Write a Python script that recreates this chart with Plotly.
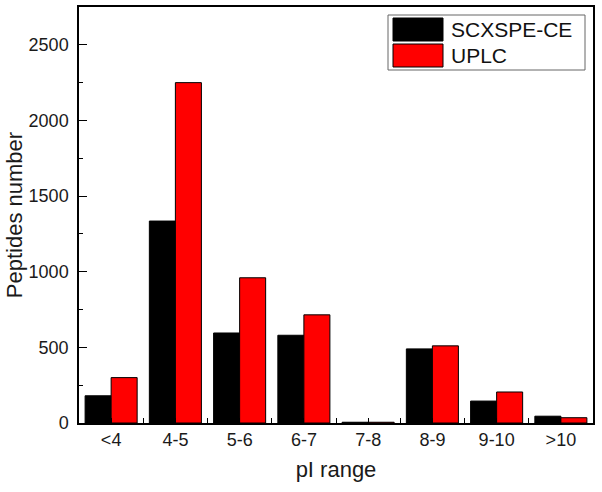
import plotly.graph_objects as go

categories = ["<4", "4-5", "5-6", "6-7", "7-8", "8-9", "9-10", ">10"]
series_names = ["SCXSPE-CE", "UPLC"]
scx_values = [180, 1335, 595, 580, 5, 490, 145, 45]
uplc_values = [300, 2250, 960, 715, 5, 510, 205, 35]
series_colors = ["#000000", "#ff0000"]
y_ticks = [0, 500, 1000, 1500, 2000, 2500]

xpos = list(range(len(categories)))
font_family = "Liberation Sans, Arial, sans-serif"

fig = go.Figure()
for name, vals, col in zip(series_names, [scx_values, uplc_values], series_colors):
    fig.add_trace(go.Bar(x=xpos, y=vals, name=name, marker=dict(color=col, line=dict(color="black", width=1)),
                         showlegend=False))

fig.update_layout(
    width=602, height=492,
    margin=dict(l=79, r=9, t=7, b=69),
    paper_bgcolor="white", plot_bgcolor="white",
    barmode="group", bargap=0.19, bargroupgap=0,
    font=dict(family=font_family, color="#1a1a1a", size=18),
)
fig.update_xaxes(
    automargin=False,
    range=[-0.5, len(categories) - 0.5],
    tickmode="array", tickvals=xpos, ticktext=categories,
    ticks="inside", ticklen=5, tickcolor="black", tickwidth=1.2,
    minor=dict(tickmode="array", tickvals=[i + 0.5 for i in xpos[:-1]], ticks="inside", ticklen=5, tickcolor="black", tickwidth=1.2),
    showline=True, linecolor="black", linewidth=1.5, mirror=True,
    showgrid=False, zeroline=False,
    tickfont=dict(size=18, family=font_family),
    ticklabelstandoff=0,
    title=dict(text="pI range", font=dict(size=22, family=font_family), standoff=12),
)
fig.update_yaxes(
    automargin=False,
    range=[0, 2750],
    tickmode="array", tickvals=y_ticks,
    ticks="inside", ticklen=8, tickcolor="black", tickwidth=1.2,
    minor=dict(dtick=250, tick0=0, ticks="inside", ticklen=4, tickcolor="black", tickwidth=1.2),
    showline=True, linecolor="black", linewidth=1.5, mirror=True,
    showgrid=False, zeroline=False,
    tickfont=dict(size=18, family=font_family),
    ticklabelstandoff=5,
    title=dict(text="Peptides number", font=dict(size=22, family=font_family), standoff=0),
)

# custom legend with wide swatches
def px_x(px):
    return (px - 79) / 514

def px_y(py):
    return (423 - py) / 416

fig.add_shape(type="rect", xref="paper", yref="paper", x0=px_x(388), x1=px_x(585), y0=px_y(70), y1=px_y(15),
              line=dict(color="#666666", width=1), fillcolor="white")
swatch_rows = [(18, 41), (44, 67)]
for (top, bot), name, col in zip(swatch_rows, series_names, series_colors):
    fig.add_shape(type="rect", xref="paper", yref="paper", x0=px_x(393), x1=px_x(443), y0=px_y(bot), y1=px_y(top),
                  line=dict(color="black", width=1), fillcolor=col)
    fig.add_annotation(xref="paper", yref="paper", x=px_x(449), y=px_y((top + bot) / 2), text=name,
                       showarrow=False, xanchor="left", yanchor="middle",
                       font=dict(size=21, family=font_family, color="#111111"))

fig.write_html("out.html", config={"displayModeBar": False},
               post_script="document.body.style.margin='0';document.body.style.overflow='hidden';")
